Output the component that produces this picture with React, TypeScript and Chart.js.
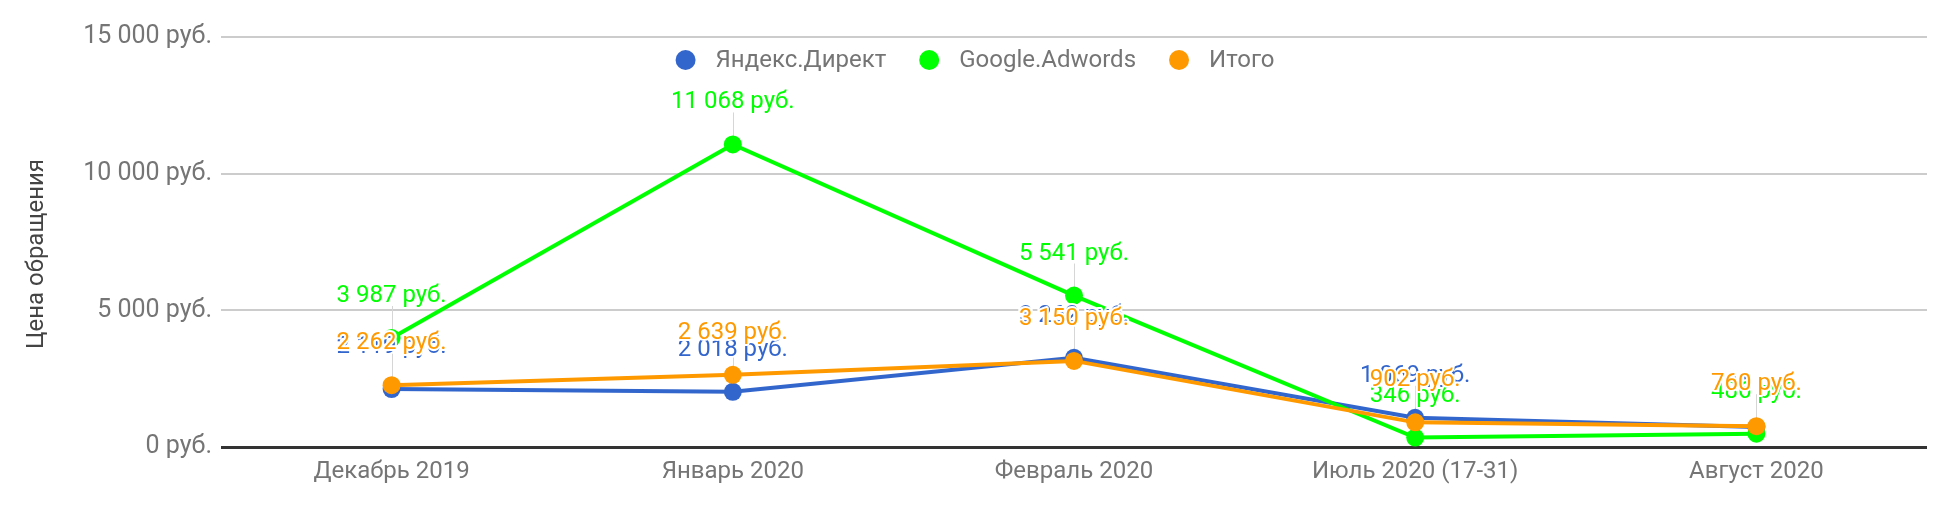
import React, { useEffect, useRef } from "react";
import { Chart, registerables } from "chart.js";

Chart.register(...registerables);

const months = ["Декабрь 2019", "Январь 2020", "Февраль 2020", "Июль 2020 (17-31)", "Август 2020"];
const yandex = [2119, 2018, 3262, 1069, 731];
const google = [3987, 11068, 5541, 346, 486];
const total = [2262, 2639, 3150, 902, 760];
const yMax = 15000;
const yStep = 5000;

const seriesNames = ["Яндекс.Директ", "Google.Adwords", "Итого"];
const seriesColors = ["#3366cc", "#00ff00", "#ff9900"];
const axisTitle = "Цена обращения";

const FONT = "Roboto";
const TEXT = "#757575";

const rub = (v: number) =>
  String(Math.round(v)).replace(/\B(?=(\d{3})+(?!\d))/g, " ") + " руб.";

// value labels above every point, with a thin stem, white halo behind text
const annotations = {
  id: "annotations",
  beforeDatasetsDraw(chart: any) {
    const ctx = chart.ctx;
    ctx.save();
    ctx.strokeStyle = "#d6d6d6";
    ctx.lineWidth = 1;
    chart.data.datasets.forEach((_: any, di: number) => {
      chart.getDatasetMeta(di).data.forEach((pt: any) => {
        ctx.beginPath();
        ctx.moveTo(Math.round(pt.x) + 0.5, pt.y);
        ctx.lineTo(Math.round(pt.x) + 0.5, pt.y - 32);
        ctx.stroke();
      });
    });
    ctx.restore();
  },
  afterDatasetsDraw(chart: any) {
    const ctx = chart.ctx;
    ctx.save();
    ctx.font = `24px ${FONT}`;
    ctx.textAlign = "center";
    ctx.textBaseline = "alphabetic";
    ctx.lineJoin = "round";
    chart.data.datasets.forEach((ds: any, di: number) => {
      chart.getDatasetMeta(di).data.forEach((pt: any, i: number) => {
        const txt = rub(ds.data[i]);
        ctx.lineWidth = 4;
        ctx.strokeStyle = "#ffffff";
        ctx.strokeText(txt, pt.x, pt.y - 36);
        ctx.fillStyle = ds.borderColor;
        ctx.fillText(txt, pt.x, pt.y - 36);
      });
    });
    ctx.restore();
  },
};

// legend inside the plot, centred on the canvas; axis title centred on the canvas height
const overlay = {
  id: "overlay",
  afterDraw(chart: any) {
    const ctx = chart.ctx;
    const r = 10;
    const gap = 20;
    const sep = 33;
    const y = 60;
    ctx.save();
    ctx.font = `24px ${FONT}`;
    const widths = seriesNames.map((n) => ctx.measureText(n).width);
    const full = widths.reduce((a, w) => a + 2 * r + gap + w, 0) + sep * (seriesNames.length - 1);
    let x = chart.width / 2 - full / 2;
    ctx.textBaseline = "middle";
    ctx.textAlign = "left";
    seriesNames.forEach((n, i) => {
      ctx.fillStyle = seriesColors[i];
      ctx.beginPath();
      ctx.arc(x + r, y, r, 0, Math.PI * 2);
      ctx.fill();
      ctx.fillStyle = TEXT;
      ctx.fillText(n, x + 2 * r + gap, y + 1);
      x += 2 * r + gap + widths[i] + sep;
    });

    ctx.translate(43, chart.height / 2);
    ctx.rotate(-Math.PI / 2);
    ctx.textAlign = "center";
    ctx.textBaseline = "alphabetic";
    ctx.fillStyle = "#444444";
    ctx.fillText(axisTitle, 0, 0);
    ctx.restore();
  },
};

const App: React.FC = () => {
  const canvasRef = useRef<HTMLCanvasElement>(null);

  useEffect(() => {
    document.body.style.margin = "0";
    const chart = new Chart(canvasRef.current!, {
      type: "line",
      data: {
        labels: months,
        datasets: [
          { label: seriesNames[0], data: yandex, order: 3 },
          { label: seriesNames[1], data: google, order: 2 },
          { label: seriesNames[2], data: total, order: 1 },
        ].map((d, i) => ({
          ...d,
          borderColor: seriesColors[i],
          backgroundColor: seriesColors[i],
          borderWidth: 4,
          pointRadius: 9,
          pointHoverRadius: 9,
          pointBorderWidth: 0,
          tension: 0,
        })),
      },
      options: {
        animation: false,
        responsive: true,
        maintainAspectRatio: false,
        layout: { padding: { top: 37, right: 23, left: 0, bottom: 0 } },
        plugins: {
          legend: { display: false },
          tooltip: { enabled: false },
        },
        scales: {
          x: {
            offset: true,
            grid: { display: false, drawTicks: false },
            border: { display: false },
            ticks: { color: TEXT, font: { family: FONT, size: 24 }, padding: 11 },
            afterFit: (s: any) => {
              s.height = 61;
            },
          },
          y: {
            min: 0,
            max: yMax,
            grid: {
              drawTicks: false,
              color: (c: any) => (c.tick && c.tick.value === 0 ? "#333333" : "#cccccc"),
              lineWidth: (c: any) => (c.tick && c.tick.value === 0 ? 3 : 2),
            },
            border: { display: false },
            ticks: {
              stepSize: yStep,
              color: TEXT,
              font: { family: FONT, size: 25 },
              padding: 9,
              callback: (v: any) => rub(Number(v)),
            },
            afterFit: (s: any) => {
              s.width = 221;
            },
          },
        },
      },
      plugins: [annotations, overlay],
    });
    return () => chart.destroy();
  }, []);

  return (
    <div style={{ position: "absolute", left: 0, top: 0, width: 1950, height: 508 }}>
      <canvas ref={canvasRef} />
    </div>
  );
};

export default App;
